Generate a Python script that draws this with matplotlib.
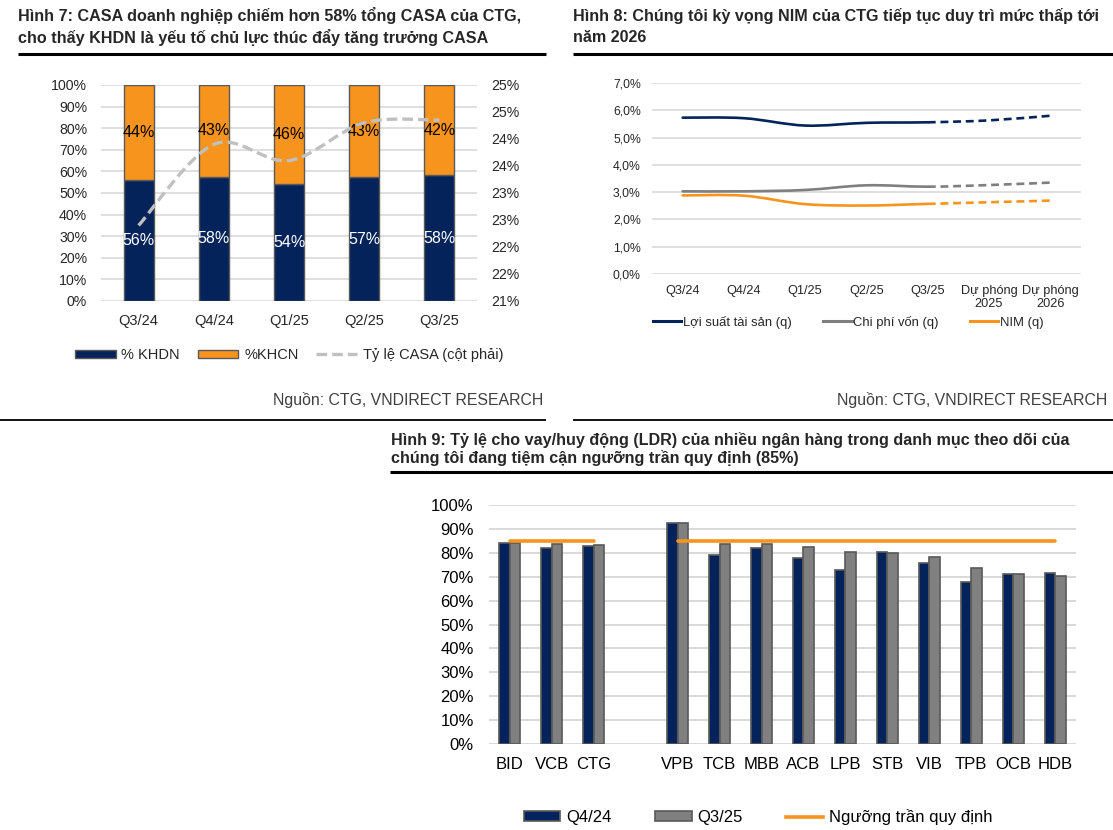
import numpy as np
import matplotlib
matplotlib.use("Agg")
import matplotlib.pyplot as plt
from matplotlib.path import Path
from matplotlib.patches import PathPatch, Patch
from matplotlib.lines import Line2D

plt.rcParams['font.family'] = ['Liberation Sans', 'DejaVu Sans']

# ---------------- data ----------------
quarters = ['Q3/24', 'Q4/24', 'Q1/25', 'Q2/25', 'Q3/25']
khdn = [55.8, 57.5, 54.0, 57.4, 58.2]
khcn = [44.2, 42.5, 46.0, 42.6, 41.8]
casa = [22.4, 23.9, 23.6, 24.3, 24.35]
casa_ticks = [21.0, 21.5, 22.0, 22.5, 23.0, 23.5, 24.0, 24.5, 25.0]
casa_tick_labels = ['21%', '22%', '22%', '23%', '23%', '24%', '24%', '25%', '25%']

nim_cats = ['Q3/24', 'Q4/24', 'Q1/25', 'Q2/25', 'Q3/25', 'Dự phóng\n2025', 'Dự phóng\n2026']
asset_yield = [5.73, 5.71, 5.44, 5.54, 5.56, 5.63, 5.80]
cost_of_funds = [3.03, 3.03, 3.08, 3.25, 3.20, 3.26, 3.35]
nim = [2.88, 2.87, 2.56, 2.51, 2.57, 2.63, 2.69]
n_actual = 5  # first five points are actual, rest forecast

banks = ['BID', 'VCB', 'CTG', '', 'VPB', 'TCB', 'MBB', 'ACB', 'LPB', 'STB', 'VIB', 'TPB', 'OCB', 'HDB']
ldr_q4_24 = [83.9, 81.9, 82.8, np.nan, 92.3, 79.1, 81.9, 77.7, 72.8, 80.3, 75.9, 67.7, 71.1, 71.5]
ldr_q3_25 = [84.0, 83.7, 83.3, np.nan, 92.5, 83.7, 83.7, 82.3, 80.2, 80.0, 78.4, 73.8, 71.1, 70.3]
ldr_ceiling = [85, 85, 85, np.nan, 85, 85, 85, 85, 85, 85, 85, 85, 85, 85]

# ---------------- style ----------------
NAVY = '#03235A'
ORANGE = '#F7941D'
GRAY_BAR = '#808080'
GRAY_LINE = '#7F7F7F'
CASA_GRAY = '#C0C0C0'
EDGE = '#595959'
GRID = '#D9D9D9'
TXT = '#262626'

W, H = 1113, 830
fig = plt.figure(figsize=(W / 100, H / 100), dpi=100)


def fx(px):
    return px / W


def fy(py):
    return 1 - py / H


def axes_px(l, t, r, b):
    return fig.add_axes([fx(l), fy(b), (r - l) / W, (b - t) / H])


def smooth_path(xs, ys, i0, i1):
    n = len(xs)
    verts = [(xs[i0], ys[i0])]
    codes = [Path.MOVETO]
    for i in range(i0, i1):
        p0 = i - 1 if i > 0 else i
        p3 = i + 2 if i + 2 < n else i + 1
        c1 = (xs[i] + (xs[i + 1] - xs[p0]) / 6.0, ys[i] + (ys[i + 1] - ys[p0]) / 6.0)
        c2 = (xs[i + 1] - (xs[p3] - xs[i]) / 6.0, ys[i + 1] - (ys[p3] - ys[i]) / 6.0)
        verts += [c1, c2, (xs[i + 1], ys[i + 1])]
        codes += [Path.CURVE4] * 3
    return Path(verts, codes)


def clean(ax):
    for s in ax.spines.values():
        s.set_visible(False)
    ax.tick_params(length=0)
    ax.set_axisbelow(True)


def rhalf(v):
    return int(np.floor(v + 0.5))


# ---------------- headers ----------------
def hline(x0, x1, y, lw):
    fig.add_artist(Line2D([fx(x0), fx(x1)], [fy(y), fy(y)], color='black', lw=lw,
                          transform=fig.transFigure, solid_capstyle='butt'))


fig.text(fx(18), fy(16), 'Hình 7: CASA doanh nghiệp chiếm hơn 58% tổng CASA của CTG,',
         fontsize=11.6, fontweight='bold', color=TXT, va='center', ha='left')
fig.text(fx(18), fy(37), 'cho thấy KHDN là yếu tố chủ lực thúc đẩy tăng trưởng CASA',
         fontsize=11.6, fontweight='bold', color=TXT, va='center', ha='left')
hline(18, 546, 54, 2.2)

fig.text(fx(573), fy(16), 'Hình 8: Chúng tôi kỳ vọng NIM của CTG tiếp tục duy trì mức thấp tới',
         fontsize=11.6, fontweight='bold', color=TXT, va='center', ha='left')
fig.text(fx(573), fy(37), 'năm 2026',
         fontsize=11.6, fontweight='bold', color=TXT, va='center', ha='left')
hline(573, 1113, 54, 2.2)

fig.text(fx(543), fy(400), 'Nguồn: CTG, VNDIRECT RESEARCH', fontsize=11.4, color='#404040',
         va='center', ha='right')
fig.text(fx(1107), fy(400), 'Nguồn: CTG, VNDIRECT RESEARCH', fontsize=11.4, color='#404040',
         va='center', ha='right')

hline(0, 546, 420, 1.3)
hline(573, 1113, 420, 1.3)

fig.text(fx(391), fy(440), 'Hình 9: Tỷ lệ cho vay/huy động (LDR) của nhiều ngân hàng trong danh mục theo dõi của',
         fontsize=11.6, fontweight='bold', color=TXT, va='center', ha='left')
fig.text(fx(391), fy(458), 'chúng tôi đang tiệm cận ngưỡng trần quy định (85%)',
         fontsize=11.6, fontweight='bold', color=TXT, va='center', ha='left')
hline(390, 1113, 472, 2.2)

# ---------------- panel 1 ----------------
ax1 = axes_px(101, 85, 477, 301)
clean(ax1)
x1 = np.arange(len(quarters))
ax1.bar(x1, khdn, width=0.4, color=NAVY, edgecolor=EDGE, linewidth=1.0, zorder=2)
ax1.bar(x1, khcn, width=0.4, bottom=khdn, color=ORANGE, edgecolor=EDGE, linewidth=1.0, zorder=2)
for xi, a, b in zip(x1, khdn, khcn):
    ax1.text(xi, a / 2, f'{rhalf(a)}%', ha='center', va='center', color='white', fontsize=11.5, zorder=5)
    ax1.text(xi, a + b / 2, f'{rhalf(b)}%', ha='center', va='center', color='black', fontsize=11.5, zorder=5)
ax1.set_xlim(-0.5, len(quarters) - 0.5)
ax1.set_ylim(0, 100)
ax1.set_yticks(np.arange(0, 101, 10))
ax1.set_yticklabels([f'{v}%' for v in range(0, 101, 10)])
ax1.yaxis.grid(True, color=GRID, lw=1.2)
ax1.set_xticks(x1)
ax1.set_xticklabels(quarters)
ax1.tick_params(axis='y', labelsize=10.2, labelcolor=TXT, pad=10)
ax1.tick_params(axis='x', labelsize=10.5, labelcolor=TXT, pad=9)

ax1b = ax1.twinx()
clean(ax1b)
ax1b.set_ylim(21, 25)
ax1b.set_yticks(casa_ticks)
ax1b.set_yticklabels(casa_tick_labels)
ax1b.tick_params(axis='y', labelsize=10.2, labelcolor=TXT, pad=10)
p = smooth_path(list(x1.astype(float)), casa, 0, len(casa) - 1)
ax1b.add_patch(PathPatch(p, fill=False, edgecolor=CASA_GRAY, lw=2.4, linestyle=(0, (3.2, 1.5)),
                         capstyle='butt', zorder=4))

h1 = [Patch(facecolor=NAVY, edgecolor=EDGE, lw=1.0, label='% KHDN'),
      Patch(facecolor=ORANGE, edgecolor=EDGE, lw=1.0, label='%KHCN'),
      Line2D([], [], color=CASA_GRAY, lw=2.4, linestyle=(0, (3.2, 1.5)), label='Tỷ lệ CASA (cột phải)')]
fig.legend(handles=h1, loc='center', bbox_to_anchor=(fx(289), fy(355)), ncol=3, frameon=False,
           fontsize=10.5, handlelength=2.8, handleheight=0.45, handletextpad=0.4, columnspacing=1.2,
           labelcolor=TXT, borderpad=0)

# ---------------- panel 2 ----------------
ax2 = axes_px(652, 83, 1081, 274)
clean(ax2)
x2 = np.arange(len(nim_cats)).astype(float)
ax2.set_xlim(-0.5, len(nim_cats) - 0.5)
ax2.set_ylim(0, 7)
ax2.set_yticks(np.arange(0, 7.01, 1))
ax2.set_yticklabels([f'{v:.1f}%'.replace('.', ',') for v in np.arange(0, 7.01, 1)])
ax2.yaxis.grid(True, color=GRID, lw=1.2)
ax2.set_xticks(x2)
ax2.set_xticklabels(nim_cats, linespacing=1.1)
ax2.tick_params(axis='y', labelsize=8.8, labelcolor=TXT, pad=8)
ax2.tick_params(axis='x', labelsize=9.2, labelcolor=TXT, pad=8)
for series, col in [(asset_yield, NAVY), (cost_of_funds, GRAY_LINE), (nim, ORANGE)]:
    ps = smooth_path(list(x2), series, 0, n_actual - 1)
    ax2.add_patch(PathPatch(ps, fill=False, edgecolor=col, lw=1.9, capstyle='round', zorder=3))
    pd_ = smooth_path(list(x2), series, n_actual - 1, len(series) - 1)
    ax2.add_patch(PathPatch(pd_, fill=False, edgecolor=col, lw=1.9, linestyle=(0, (3.0, 1.8)),
                            capstyle='butt', zorder=3))
h2 = [Line2D([], [], color=NAVY, lw=2.2, label='Lợi suất tài sản (q)'),
      Line2D([], [], color=GRAY_LINE, lw=2.2, label='Chi phí vốn (q)'),
      Line2D([], [], color=ORANGE, lw=2.2, label='NIM (q)')]
fig.legend(handles=h2, loc='center', bbox_to_anchor=(fx(848), fy(322)), ncol=3, frameon=False,
           fontsize=9.4, handlelength=2.2, handletextpad=0.1, columnspacing=2.4,
           labelcolor=TXT, borderpad=0)

# ---------------- panel 3 ----------------
ax3 = axes_px(489, 505, 1076, 744)
clean(ax3)
x3 = np.arange(len(banks)).astype(float)
bw = 0.25
ax3.bar(x3 - bw / 2, ldr_q4_24, width=bw, color=NAVY, edgecolor=EDGE, linewidth=1.2, zorder=2)
ax3.bar(x3 + bw / 2, ldr_q3_25, width=bw, color=GRAY_BAR, edgecolor=EDGE, linewidth=1.2, zorder=2)
ax3.plot(x3, ldr_ceiling, color=ORANGE, lw=2.6, solid_capstyle='round', zorder=3)
ax3.set_xlim(-0.5, len(banks) - 0.5)
ax3.set_ylim(0, 100)
ax3.set_yticks(np.arange(0, 101, 10))
ax3.set_yticklabels([f'{v}%' for v in range(0, 101, 10)])
ax3.yaxis.grid(True, color=GRID, lw=1.4)
ax3.set_xticks(x3)
ax3.set_xticklabels(banks)
ax3.tick_params(axis='y', labelsize=12, labelcolor='black', pad=11)
ax3.tick_params(axis='x', labelsize=12, labelcolor='black', pad=9)
h3 = [Patch(facecolor=NAVY, edgecolor=EDGE, lw=1.2, label='Q4/24'),
      Patch(facecolor=GRAY_BAR, edgecolor=EDGE, lw=1.2, label='Q3/25'),
      Line2D([], [], color=ORANGE, lw=2.6, label='Ngưỡng trần quy định')]
fig.legend(handles=h3, loc='center', bbox_to_anchor=(fx(758), fy(817)), ncol=3, frameon=False,
           fontsize=12, handlelength=2.2, handleheight=0.55, handletextpad=0.35, columnspacing=2.6,
           labelcolor='black', borderpad=0)

fig.savefig('out.png', dpi=100)
